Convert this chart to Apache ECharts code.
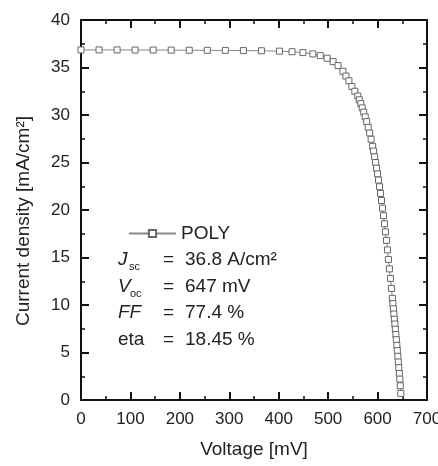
<!DOCTYPE html>
<html>
<head>
<meta charset="utf-8">
<script src="https://cdn.jsdelivr.net/npm/echarts@6/dist/echarts.min.js"></script>
<style>
html, body { margin: 0; padding: 0; background: #fff; }
#chart { width: 438px; height: 466px; }
</style>
</head>
<body>
<div id="chart"></div>
<script>
// J-V curve, POLY cell
var voltage = [0, 36.5, 73, 109.5, 146, 182.5, 219, 255.5, 292, 328.5, 365, 401.5,
    427, 449, 469, 484, 498, 510, 520, 530, 536, 542, 548, 554, 560,
    563, 566, 569, 572, 575, 578, 581, 584, 587, 590, 592, 594, 596, 598, 600,
    602, 604, 606, 608, 610, 612, 614, 616, 618, 620, 622, 624, 626, 628, 630,
    631, 632, 633, 634, 635, 636, 637, 638, 639, 640, 641, 642, 643, 644, 645, 646, 647];
var current = [36.85, 36.85, 36.85, 36.84, 36.84, 36.83, 36.82, 36.81, 36.8, 36.78, 36.76, 36.72,
    36.66, 36.57, 36.43, 36.25, 35.98, 35.62, 35.2, 34.6, 34.1, 33.6, 33.0, 32.5, 32.0,
    31.6, 31.2, 30.75, 30.3, 29.8, 29.3, 28.7, 28.1, 27.45, 26.7, 26.2, 25.6, 25.0, 24.4, 23.8,
    23.15, 22.45, 21.75, 21.0, 20.2, 19.4, 18.55, 17.7, 16.8, 15.8, 14.8, 13.8, 12.8, 11.75, 10.7,
    10.15, 9.6, 9.05, 8.5, 8.0, 7.45, 6.9, 6.35, 5.75, 5.2, 4.6, 4.0, 3.4, 2.8, 2.2, 1.5, 0.7];

var seriesName = 'POLY';
var paramLabels = ['FF', 'eta'];
var paramValues = ['36.8 A/cm\u00b2', '647 mV', '77.4 %', '18.45 %'];

var xTicks = {min: 0, max: 700, interval: 100};
var yTicks = {min: 0, max: 40, interval: 5};

var chart = echarts.init(document.getElementById('chart'));

var pts = [];
for (var i = 0; i < voltage.length; i++) {
    pts.push([voltage[i], current[i]]);
}

var FONT = 'Liberation Sans, Arial, sans-serif';
var TXT = '#222';

//坐标轴公用设置
function axisSet(extra) {
    var o = {
        type: 'value',
        axisLine: {show: true, onZero: false, lineStyle: {color: '#111', width: 2}},
        axisTick: {show: true, inside: true, length: 8, lineStyle: {color: '#111', width: 2}},
        minorTick: {show: true, splitNumber: 2, length: 4, lineStyle: {color: '#111', width: 1.5}},
        splitLine: {show: false},
        axisLabel: {color: TXT, fontSize: 17, fontFamily: FONT, margin: 11}
    };
    for (var k in extra) o[k] = extra[k];
    return o;
}

function txt(x, y, s, size, italic) {
    return {
        type: 'text', left: x, top: y,
        style: {
            text: s, fill: TXT, fontSize: size, fontFamily: FONT,
            fontStyle: italic ? 'italic' : 'normal',
            verticalAlign: 'middle'
        }
    };
}

var rowY = [260, 287, 313, 340];
var graphics = [
    txt(118, rowY[0] - 10, 'J', 19, true),
    txt(129, rowY[0] + 1, 'sc', 11, false),
    txt(118, rowY[1] - 10, 'V', 19, true),
    txt(130, rowY[1] + 1, 'oc', 11, false),
    txt(118, rowY[2] - 10, paramLabels[0], 19, true),
    txt(118, rowY[3] - 10, paramLabels[1], 19, false)
];
for (var r = 0; r < 4; r++) {
    graphics.push(txt(163, rowY[r] - 10, '=', 19, false));
    graphics.push(txt(185, rowY[r] - 10, paramValues[r], 19, false));
}

var option = {
    animation: false,
    grid: {left: 81, right: 11, top: 20, bottom: 66, containLabel: false, outerBoundsMode: 'none'},
    legend: {
        left: 123, top: 219,
        itemWidth: 47, itemHeight: 9, itemGap: 0,
        textStyle: {color: TXT, fontSize: 19, fontFamily: FONT, padding: [0, 0, 0, 0]},
        data: [seriesName]
    },
    xAxis: [
        axisSet({
            min: xTicks.min, max: xTicks.max, interval: xTicks.interval, position: 'bottom',
            name: 'Voltage [mV]', nameLocation: 'middle', nameGap: 40,
            nameTextStyle: {color: TXT, fontSize: 19, fontFamily: FONT}
        }),
        axisSet({
            min: xTicks.min, max: xTicks.max, interval: xTicks.interval, position: 'top',
            axisLabel: {show: false}
        })
    ],
    yAxis: [
        axisSet({
            min: yTicks.min, max: yTicks.max, interval: yTicks.interval, position: 'left',
            name: 'Current density [mA/cm\u00b2]', nameLocation: 'middle', nameGap: 48,
            nameTextStyle: {color: TXT, fontSize: 19, fontFamily: FONT, padding: [0, 22, 0, 0]}
        }),
        axisSet({
            min: yTicks.min, max: yTicks.max, interval: yTicks.interval, position: 'right',
            axisLabel: {show: false}
        })
    ],
    series: [{
        name: seriesName,
        type: 'line',
        data: pts,
        symbol: 'rect',
        symbolSize: 6,
        showAllSymbol: true,
        itemStyle: {color: '#fff', borderColor: '#666', borderWidth: 1},
        lineStyle: {color: '#888', width: 1}
    }],
    graphic: graphics
};

chart.setOption(option);
</script>
</body>
</html>
